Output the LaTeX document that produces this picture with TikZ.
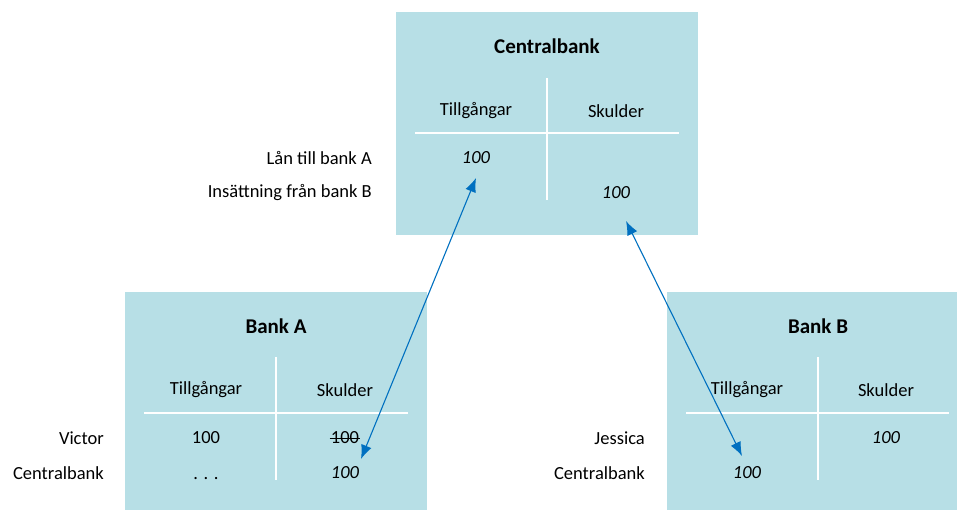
\documentclass[tikz,border=0pt]{standalone}
\usepackage{fontspec}
\setmainfont{Carlito}
\usepackage{tikz}
\usetikzlibrary{arrows.meta}
\pgfdeclarelayer{edgelayer}
\pgfdeclarelayer{nodelayer}
\pgfsetlayers{main,edgelayer,nodelayer}
\definecolor{boxblue}{RGB}{183,223,230}
\definecolor{arrowblue}{RGB}{0,112,192}
\tikzstyle{none}=[inner sep=0pt]
\tikzstyle{account}=[rectangle, fill=boxblue, anchor=north west, inner sep=0pt]
\tikzstyle{title}=[inner sep=0pt, font=\fontsize{21}{24}\selectfont\bfseries]
\tikzstyle{entry}=[inner sep=0pt, font=\fontsize{18.5}{21}\selectfont]
\tikzstyle{rowlabel}=[inner sep=0pt, anchor=east, font=\fontsize{18.5}{21}\selectfont]
\tikzstyle{tline}=[white, line width=2.2pt]
\tikzstyle{flow}=[arrowblue, line width=1.1pt, {Latex[length=14pt,width=11pt]}-{Latex[length=14pt,width=11pt]}]

\begin{document}
\begin{tikzpicture}[x=1pt, y=-1pt]
    \useasboundingbox (0,0) rectangle (957,510);
    % boxes
	\node [style=account, minimum width=302pt, minimum height=223pt] (cb) at (396, 12) {};
	\node [style=account, minimum width=302pt, minimum height=218pt] (ba) at (125, 292) {};
	\node [style=account, minimum width=290pt, minimum height=218pt] (bb) at (667, 292) {};
    \begin{pgfonlayer}{nodelayer}
	% Centralbank
	\node [style=title] (0) at (547, 46) {Centralbank};
	\node [style=entry] (1) at (476, 111) {Tillgångar};
	\node [style=entry] (2) at (616, 111) {Skulder};
	\node [style=entry] (3) at (476, 158) {\itshape 100};
	\node [style=entry] (4) at (616, 193) {\itshape 100};
	\node [style=rowlabel] (5) at (372, 158) {Lån till bank A};
	\node [style=rowlabel] (6) at (372, 193) {Insättning från bank B};
	% Bank A
	\node [style=title] (10) at (276, 326) {Bank A};
	\node [style=entry] (11) at (206, 390) {Tillgångar};
	\node [style=entry] (12) at (345, 390) {Skulder};
	\node [style=entry] (13) at (206, 438) {100};
	\node [style=entry] (14) at (345, 438) {100};
	\node [style=entry, anchor=base] (15) at (206, 479) {. . .};
	\node [style=entry] (16) at (345, 473) {\itshape 100};
	\node [style=rowlabel] (17) at (104, 438) {Victor};
	\node [style=rowlabel] (18) at (104, 473) {Centralbank};
	% Bank B
	\node [style=title] (20) at (818, 326) {Bank B};
	\node [style=entry] (21) at (747, 390) {Tillgångar};
	\node [style=entry] (22) at (886, 390) {Skulder};
	\node [style=entry] (23) at (886, 438) {\itshape 100};
	\node [style=entry] (24) at (747, 473) {\itshape 100};
	\node [style=rowlabel] (25) at (645, 438) {Jessica};
	\node [style=rowlabel] (26) at (645, 473) {Centralbank};
    \end{pgfonlayer}
    % T-account lines
	\node [style=none] (30) at (547, 78) {};
	\node [style=none] (31) at (547, 200) {};
	\node [style=none] (32) at (415, 133) {};
	\node [style=none] (33) at (679, 133) {};
	\node [style=none] (34) at (276, 357) {};
	\node [style=none] (35) at (276, 480) {};
	\node [style=none] (36) at (144, 413) {};
	\node [style=none] (37) at (408, 413) {};
	\node [style=none] (38) at (818, 357) {};
	\node [style=none] (39) at (818, 480) {};
	\node [style=none] (40) at (686, 413) {};
	\node [style=none] (41) at (949, 413) {};
	\draw [style=tline] (30.center) to (31.center);
	\draw [style=tline] (32.center) to (33.center);
	\draw [style=tline] (34.center) to (35.center);
	\draw [style=tline] (36.center) to (37.center);
	\draw [style=tline] (38.center) to (39.center);
	\draw [style=tline] (40.center) to (41.center);
	% strike through
	\draw [line width=0.8pt] ([xshift=-1pt]14.west) to ([xshift=1pt]14.east);
    \begin{pgfonlayer}{edgelayer}
	\coordinate (50) at (476, 178);
	\coordinate (51) at (361, 459);
	\coordinate (52) at (626, 221);
	\coordinate (53) at (742, 456);
	\draw [style=flow] (50) to (51);
	\draw [style=flow] (52) to (53);
    \end{pgfonlayer}
\end{tikzpicture}
\end{document}
